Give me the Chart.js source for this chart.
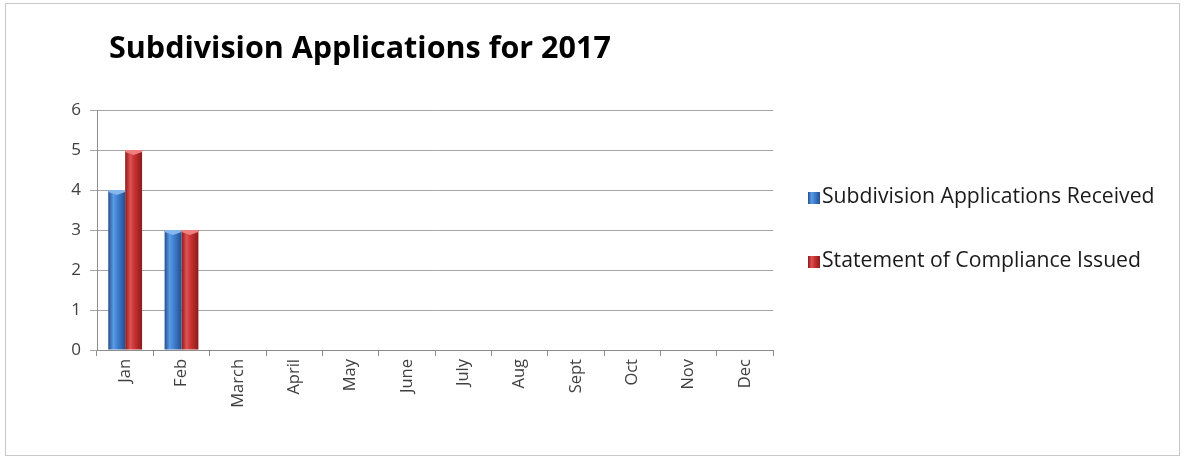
<!DOCTYPE html>
<html>
<head>
<meta charset="utf-8">
<title>Subdivision Applications for 2017</title>
<script src="https://cdn.jsdelivr.net/npm/chart.js@4/dist/chart.umd.min.js"></script>
<style>
  html, body { margin: 0; padding: 0; background: #ffffff; }
  #wrap { position: relative; width: 1184px; height: 459px; }
  #frame { position: absolute; left: 5px; top: 3px; width: 1175px; height: 453px; border: 1px solid #c8c8c8; box-sizing: border-box; }
  canvas { position: absolute; left: 0; top: 0; }
</style>
</head>
<body>
<div id="wrap">
  <div id="frame"></div>
  <canvas id="chart" width="1184" height="459"></canvas>
</div>
<script>
const chartTitle = 'Subdivision Applications for 2017';
const months = ['Jan', 'Feb', 'March', 'April', 'May', 'June', 'July', 'Aug', 'Sept', 'Oct', 'Nov', 'Dec'];
const applicationsReceived = [4, 3, null, null, null, null, null, null, null, null, null, null];
const complianceIssued = [5, 3, null, null, null, null, null, null, null, null, null, null];
const yTicks = [0, 1, 2, 3, 4, 5, 6];

const FONT = '"Open Sans", Lato, sans-serif';
const CAT_PCT = 0.6;

const palettes = {
  blue: { edge: '#24508f', mid: '#3f7fd0', light: '#5b9be3', cap: '#86b6ee' },
  red:  { edge: '#8c1a1a', mid: '#c83232', light: '#e05252', cap: '#f08080' }
};

// horizontal shading so the bars look like rounded columns
function columnGradient(ctx, left, width, p) {
  const g = ctx.createLinearGradient(left, 0, left + width, 0);
  g.addColorStop(0, p.edge);
  g.addColorStop(0.3, p.light);
  g.addColorStop(0.55, p.mid);
  g.addColorStop(1, p.edge);
  return g;
}

function barFill(palette, datasetIdx) {
  return (context) => {
    const chart = context.chart;
    const xs = chart.scales.x;
    if (!xs || context.dataIndex === undefined) return palette.mid;
    const cat = xs.width / months.length;
    const group = cat * CAT_PCT;
    const center = xs.getPixelForValue(context.dataIndex);
    const left = center - group / 2 + datasetIdx * group / 2;
    if (!isFinite(left) || !isFinite(group) || group <= 0) return palette.mid;
    return columnGradient(chart.ctx, left, group / 2, palette);
  };
}

// lighter chevron on top of every column
const columnCaps = {
  id: 'columnCaps',
  afterDatasetsDraw(chart) {
    const ctx = chart.ctx;
    const caps = [palettes.blue.cap, palettes.red.cap];
    ctx.save();
    chart.data.datasets.forEach((ds, di) => {
      chart.getDatasetMeta(di).data.forEach((bar, i) => {
        if (ds.data[i] == null) return;
        const { x, y, width } = bar.getProps(['x', 'y', 'width'], true);
        const l = x - width / 2, r = x + width / 2;
        ctx.fillStyle = caps[di];
        ctx.beginPath();
        ctx.moveTo(l, y);
        ctx.lineTo(r, y);
        ctx.lineTo(r, y + 2);
        ctx.lineTo(x, y + 5);
        ctx.lineTo(l, y + 2);
        ctx.closePath();
        ctx.fill();
      });
    });
    ctx.restore();
  }
};

// title and legend drawn at fixed spots on the canvas
const decorations = {
  id: 'decorations',
  afterDraw(chart) {
    const ctx = chart.ctx;
    ctx.save();
    ctx.fillStyle = '#000000';
    ctx.font = 'bold 30.5px ' + FONT;
    ctx.textBaseline = 'alphabetic';
    ctx.textAlign = 'left';
    ctx.fillText(chartTitle, 109, 58);

    const items = [
      { label: chart.data.datasets[0].label, p: palettes.blue, y: 197 },
      { label: chart.data.datasets[1].label, p: palettes.red, y: 261 }
    ];
    ctx.font = '21.2px ' + FONT;
    ctx.textBaseline = 'middle';
    items.forEach(it => {
      ctx.fillStyle = columnGradient(ctx, 808, 12, it.p);
      ctx.fillRect(808, it.y - 5, 12, 12);
      ctx.fillStyle = '#1a1a1a';
      ctx.fillText(it.label, 822, it.y);
    });
    ctx.restore();
  }
};

new Chart(document.getElementById('chart'), {
  type: 'bar',
  data: {
    labels: months,
    datasets: [
      {
        label: 'Subdivision Applications Received',
        data: applicationsReceived,
        backgroundColor: barFill(palettes.blue, 0),
        categoryPercentage: CAT_PCT,
        barPercentage: 1.0,
        borderWidth: 0
      },
      {
        label: 'Statement of Compliance Issued',
        data: complianceIssued,
        backgroundColor: barFill(palettes.red, 1),
        categoryPercentage: CAT_PCT,
        barPercentage: 1.0,
        borderWidth: 0
      }
    ]
  },
  options: {
    responsive: false,
    animation: false,
    layout: { padding: { left: 0, right: 411, top: 110, bottom: 0 } },
    plugins: {
      legend: { display: false },
      title: { display: false },
      tooltip: { enabled: false }
    },
    scales: {
      x: {
        grid: { offset: true, drawOnChartArea: false, drawTicks: true, tickLength: 6, color: '#8c8c8c' },
        border: { color: '#8c8c8c', width: 1 },
        ticks: {
          maxRotation: 90, minRotation: 90, autoSkip: false, padding: 3,
          color: '#404040', font: { family: FONT, size: 16.5 }
        },
        afterFit(scale) { scale.height = 109; }
      },
      y: {
        min: 0, max: 6,
        afterBuildTicks(scale) { scale.ticks = yTicks.map(v => ({ value: v })); },
        grid: { color: '#a6a6a6', tickLength: 7, drawTicks: true },
        border: { color: '#8c8c8c', width: 1 },
        ticks: { padding: 9, color: '#404040', font: { family: FONT, size: 17 } },
        afterFit(scale) { scale.width = 97; }
      }
    }
  },
  plugins: [columnCaps, decorations]
});
</script>
</body>
</html>
